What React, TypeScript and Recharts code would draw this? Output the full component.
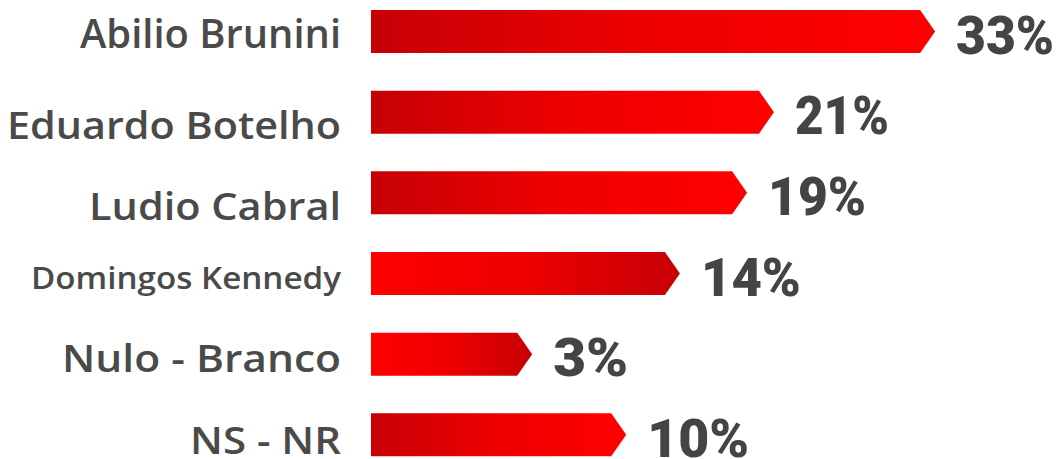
import React from 'react';
import { BarChart, Bar, XAxis, YAxis, LabelList } from 'recharts';

// ---- data ----
const candidates = [
  'Abilio Brunini',
  'Eduardo Botelho',
  'Ludio Cabral',
  'Domingos Kennedy',
  'Nulo - Branco',
  'NS - NR',
];
const percentages = [33, 21, 19, 14, 3, 10];
const percentLabels = ['33%', '21%', '19%', '14%', '3%', '10%'];

// numeric axis range (the infographic is not drawn from zero)
const AXIS_MIN = -9;
const AXIS_MAX = 42;

// ---- styles ----
const NAME_FONT_SIZES = [40, 38, 38, 30, 38, 38];
const NAME_WIDTHS = [261, 334, 252, 310, 279, 151];
const NAME_BASELINE = [17, 27, 27, 16, 18, 19];
const GRADIENT_IDS = ['redRise', 'redRise', 'redRise', 'redFall', 'redFall', 'redRise'];
const PCT_WIDTHS = [98, 94, 98, 100, 75, 102];

const data = candidates.map((name, i) => ({ name, value: percentages[i] }));

const ArrowBar = (props: any) => {
  const { x, y, width, height, index } = props;
  const tip = 15;
  const d = `M${x},${y} H${x + width - tip} L${x + width},${y + height / 2} L${x + width - tip},${y + height} H${x} Z`;
  return <path d={d} fill={`url(#${GRADIENT_IDS[index]})`} />;
};

const NameTick = (props: any) => {
  const { y, index, payload } = props;
  return (
    <text
      x={341}
      y={y + NAME_BASELINE[index]}
      textAnchor="end"
      fontFamily="'Open Sans', sans-serif"
      fontWeight={600}
      fontSize={NAME_FONT_SIZES[index]}
      fill="#4a4a4a"
      textLength={NAME_WIDTHS[index]}
      lengthAdjust="spacingAndGlyphs"
    >
      {payload.value}
    </text>
  );
};

const PctLabel = (props: any) => {
  const { x, y, width, height, index } = props;
  return (
    <text
      x={x + width + 21}
      y={y + height / 2 + 22}
      fontFamily="Roboto, sans-serif"
      fontWeight={900}
      fontSize={54}
      fill="#444444"
      textLength={PCT_WIDTHS[index]}
      lengthAdjust="spacingAndGlyphs"
    >
      {percentLabels[index]}
    </text>
  );
};

export default function App() {
  return (
    <div style={{ position: 'fixed', left: 0, top: -9, width: 1062, height: 484, background: '#ffffff' }}>
      <BarChart
        width={1062}
        height={484}
        data={data}
        layout="vertical"
        margin={{ top: 0, right: 6, bottom: 0, left: 0 }}
        barCategoryGap={0}
      >
        <defs>
          <linearGradient id="redRise" x1="0" y1="0" x2="1" y2="0">
            <stop offset="0%" stopColor="#c60006" />
            <stop offset="50%" stopColor="#ee0000" />
            <stop offset="100%" stopColor="#ff0000" />
          </linearGradient>
          <linearGradient id="redFall" x1="0" y1="0" x2="1" y2="0">
            <stop offset="0%" stopColor="#ff0000" />
            <stop offset="50%" stopColor="#ee0000" />
            <stop offset="100%" stopColor="#c60006" />
          </linearGradient>
        </defs>
        <XAxis type="number" domain={[AXIS_MIN, AXIS_MAX]} hide allowDataOverflow />
        <YAxis
          type="category"
          dataKey="name"
          width={371}
          axisLine={false}
          tickLine={false}
          tick={<NameTick />}
          interval={0}
        />
        <Bar
          dataKey={(d: any) => [AXIS_MIN, d.value]}
          barSize={43}
          shape={<ArrowBar />}
          isAnimationActive={false}
        >
          <LabelList content={<PctLabel />} />
        </Bar>
      </BarChart>
    </div>
  );
}
